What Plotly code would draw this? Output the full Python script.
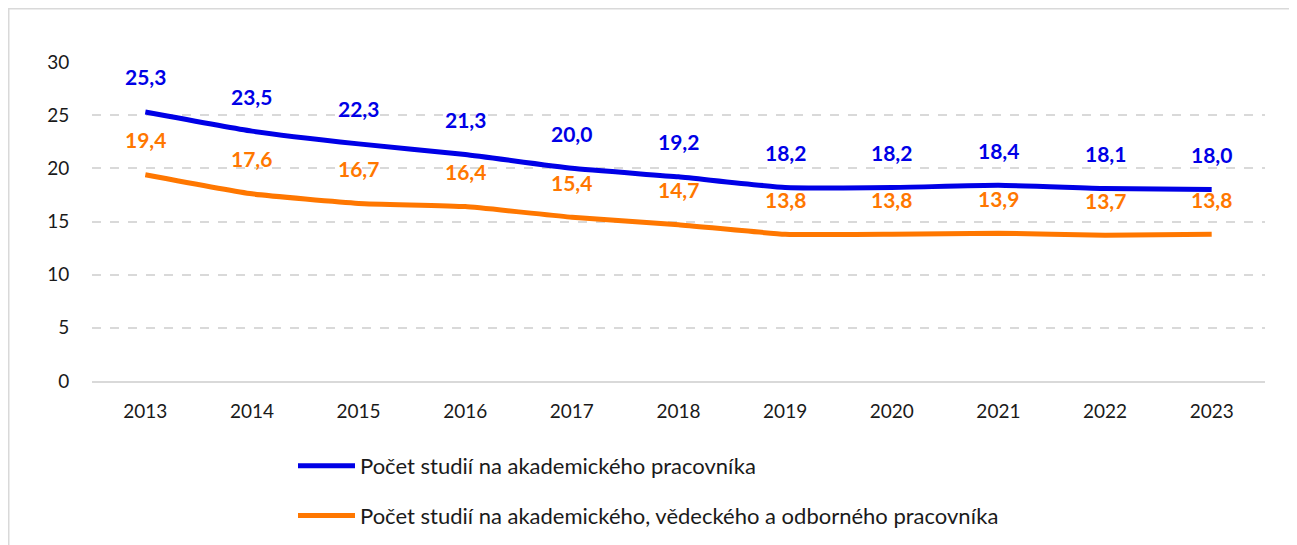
import plotly.graph_objects as go

years = ["2013", "2014", "2015", "2016", "2017", "2018", "2019", "2020", "2021", "2022", "2023"]
academic = [25.3, 23.5, 22.3, 21.3, 20.0, 19.2, 18.2, 18.2, 18.4, 18.1, 18.0]
academic_research = [19.4, 17.6, 16.7, 16.4, 15.4, 14.7, 13.8, 13.8, 13.9, 13.7, 13.8]
name_a = "Počet studií na akademického pracovníka"
name_b = "Počet studií na akademického, vědeckého a odborného pracovníka"
blue = "#0000E6"
orange = "#FF7700"
FONT = "Lato, 'Open Sans', sans-serif"

fig = go.Figure()
fig.add_trace(go.Scatter(x=years, y=academic, mode="lines", name=name_a,
                         line=dict(color=blue, width=5, shape="spline", smoothing=0.4),
                         legendgroup="a"))
fig.add_trace(go.Scatter(x=years, y=academic_research, mode="lines", name=name_b,
                         line=dict(color=orange, width=5, shape="spline", smoothing=0.4),
                         legendgroup="b"))

def fmt(v):
    return f"{v:.1f}".replace(".", ",")

annotations = []
for series, col in ((academic, blue), (academic_research, orange)):
    for i, v in enumerate(series):
        # category axis: annotation x given as category index
        annotations.append(dict(x=i, y=v, xref="x", yref="y", text=fmt(v),
                                showarrow=False, yshift=35,
                                font=dict(family=FONT, size=21, color=col, weight="bold")))

# page body has an 8px margin; figure coordinates = page coordinates - 8
L, R, T, B = 84, 32, 54, 164
W, H = 1289, 537
pw, ph = W - L - R, H - T - B

fig.update_layout(
    width=W, height=H,
    margin=dict(l=L, r=R, t=T, b=B, autoexpand=False),
    paper_bgcolor="white", plot_bgcolor="white",
    font=dict(family=FONT, size=19, color="#1a1a1a"),
    annotations=annotations,
    showlegend=True,
    legend=dict(x=(285 - L) / pw, xanchor="left", y=(H - B - 437) / ph, yanchor="top",
                orientation="v", tracegroupgap=18, itemwidth=57,
                font=dict(family=FONT, size=22, color="#1a1a1a"),
                bgcolor="rgba(0,0,0,0)"),
    xaxis=dict(type="category", range=[-0.5, len(years) - 0.5], autorange=False,
               showgrid=False, showline=True, linecolor="#d9d9d9",
               linewidth=1.5, ticks="outside", ticklen=12, tickcolor="rgba(0,0,0,0)",
               tickfont=dict(size=19)),
    yaxis=dict(range=[0, 30], dtick=5, showgrid=True, gridcolor="#d9d9d9",
               griddash="dash", gridwidth=1.5, zeroline=False, showline=False,
               ticks="outside", ticklen=18, tickcolor="rgba(0,0,0,0)",
               tickfont=dict(size=19)),
    shapes=[dict(type="rect", xref="paper", yref="paper",
                 x0=(0.75 - L) / pw, x1=(1285 - L) / pw,
                 y0=(H - B - 560) / ph, y1=(H - B - 0.75) / ph,
                 line=dict(color="#d9d9d9", width=1.5), fillcolor="rgba(0,0,0,0)",
                 layer="below")],
)

fig.write_html("out.html")
